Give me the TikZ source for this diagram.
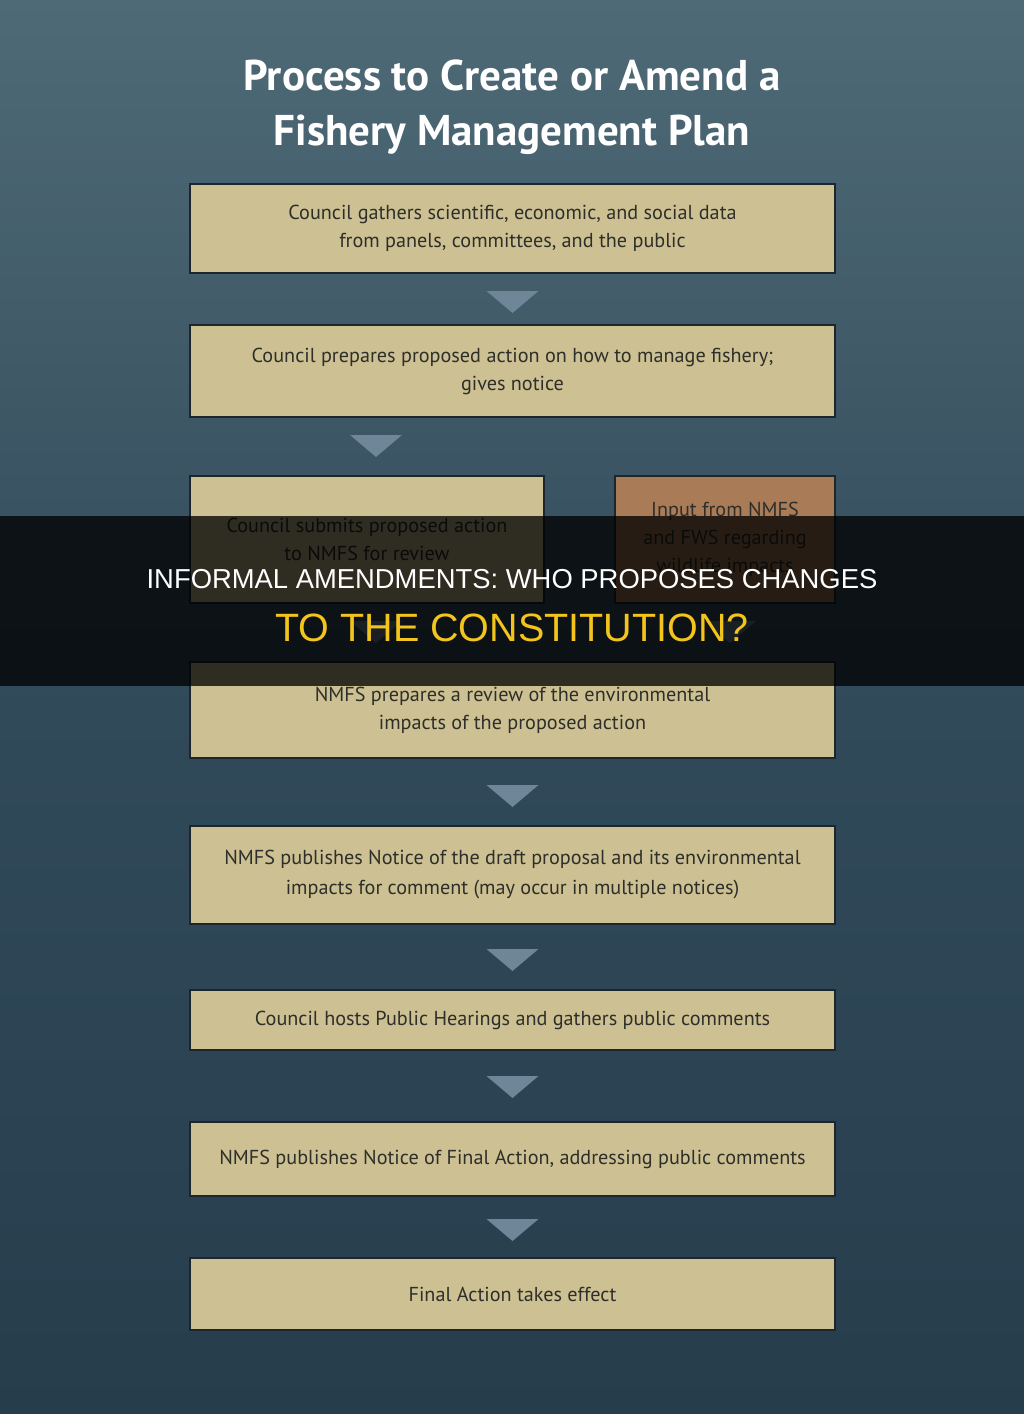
\documentclass[tikz,border=0pt]{standalone}
\usepackage{fontspec}
\setmainfont{PT Sans}
\newfontfamily\boxfont{PT Sans}
\newfontfamily\titlefont{PT Sans Bold}
\newfontfamily\bannerfont{Liberation Sans}
\usetikzlibrary{calc}
\definecolor{bgtop}{HTML}{4F6A77}
\definecolor{bgmid}{HTML}{314A5A}
\definecolor{bgbot}{HTML}{263D4C}
\definecolor{boxfill}{HTML}{CDC193}
\definecolor{inputfill}{HTML}{A97B56}
\definecolor{boxline}{HTML}{1D272B}
\definecolor{boxtext}{HTML}{2E2E2A}
\definecolor{tri}{HTML}{6E8697}
\definecolor{banneryellow}{HTML}{F3C41C}
\tikzset{
  stepbox/.style={draw=boxline, line width=2pt, fill=boxfill, text=boxtext,
    align=center, inner sep=0pt, font=\boxfont\fontsize{20.2}{28}\selectfont},
  inputbox/.style={stepbox, fill=inputfill},
  tridown/.style={fill=tri},
}
\begin{document}
\begin{tikzpicture}[x=1pt,y=-1pt]
\useasboundingbox (0,0) rectangle (1024,1414);
\shade[top color=bgtop, bottom color=bgbot, middle color=bgmid] (0,0) rectangle (1024,1414);
% title
\node[text=white, font=\titlefont\fontsize{43}{55}\selectfont, align=center] (title) at (512,107)
  {Process to Create or Amend a\\Fishery Management Plan};
% boxes
\node[stepbox, minimum width=645pt, minimum height=89pt] (b1) at (512.5,228.5)
  {Council gathers scientific, economic, and social data\\from panels, committees, and the public};
\node[stepbox, minimum width=645pt, minimum height=92pt] (b2) at (512.5,371)
  {Council prepares proposed action on how to manage fishery;\\gives notice};
\node[stepbox, minimum width=354pt, minimum height=127pt] (b3) at (367,539.5)
  {Council submits proposed action\\to NMFS for review};
\node[inputbox, minimum width=220pt, minimum height=127pt] (in) at (725,539.5)
  {Input from NMFS\\and FWS regarding\\wildlife impacts};
\node[stepbox, minimum width=645pt, minimum height=96pt] (b4) at (512.5,710)
  {NMFS prepares a review of the environmental\\impacts of the proposed action};
\node[stepbox, minimum width=645pt, minimum height=98pt, font=\boxfont\fontsize{20.2}{30}\selectfont] (b5) at (512.5,875)
  {NMFS publishes Notice of the draft proposal and its environmental\\impacts for comment (may occur in multiple notices)};
\node[stepbox, minimum width=645pt, minimum height=60pt] (b6) at (512.5,1020)
  {Council hosts Public Hearings and gathers public comments};
\node[stepbox, minimum width=645pt, minimum height=74pt] (b7) at (512.5,1159)
  {NMFS publishes Notice of Final Action, addressing public comments};
\node[stepbox, minimum width=645pt, minimum height=72pt] (b8) at (512.5,1294)
  {Final Action takes effect};
% triangles
\fill[tridown] ($(b1.south)+(-26,17)$) -- ++(52,0) -- ++(-26,22) -- cycle;
\fill[tridown] ($(b2.south -| b3.south)+(-17,17)$) -- ++(52,0) -- ++(-26,22) -- cycle;
\fill[tridown] ($(b3.south)+(-17,17)$) -- ++(52,0) -- ++(-26,22) -- cycle;
\fill[tridown] ($(in.south)+(-21,17)$) -- ++(52,0) -- ++(-26,22) -- cycle;
\fill[tridown] ($(b4.south)+(-26,26)$) -- ++(52,0) -- ++(-26,22) -- cycle;
\fill[tridown] ($(b5.south)+(-26,24)$) -- ++(52,0) -- ++(-26,22) -- cycle;
\fill[tridown] ($(b6.south)+(-26,25)$) -- ++(52,0) -- ++(-26,22) -- cycle;
\fill[tridown] ($(b7.south)+(-26,22)$) -- ++(52,0) -- ++(-26,22) -- cycle;
% banner
\fill[black, opacity=0.77] (0,516) rectangle (1024,686);
\node[text=white, font=\bannerfont\fontsize{27.4}{30}\selectfont, inner sep=0pt] (ban1) at (512,579)
  {INFORMAL AMENDMENTS: WHO PROPOSES CHANGES};
\node[text=banneryellow, font=\bannerfont\fontsize{39.5}{42}\selectfont, inner sep=0pt] (ban2) at (512,628)
  {TO THE CONSTITUTION?};
\end{tikzpicture}
\end{document}
